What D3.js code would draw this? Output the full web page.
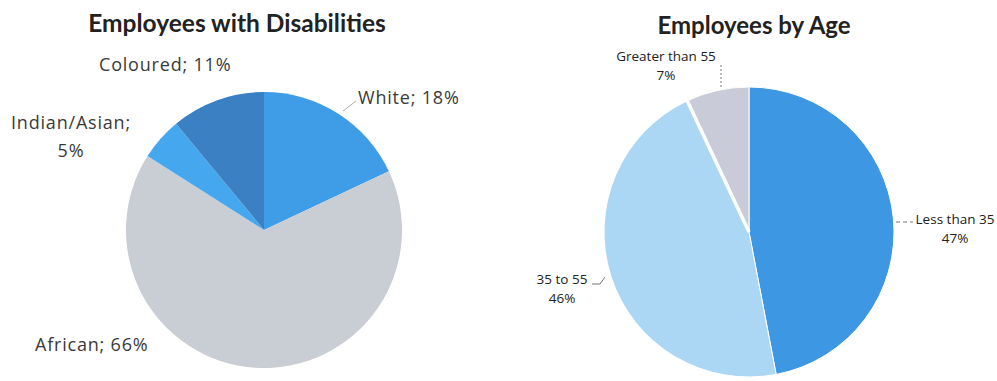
<!DOCTYPE html>
<html><head><meta charset="utf-8">
<script src="https://cdn.jsdelivr.net/npm/d3@7"></script>
<style>body{margin:0;background:#fff}svg{display:block}</style>
</head><body>
<svg id="c" width="997" height="381"></svg>
<script>
// Data
const disCats = ["White", "African", "Indian/Asian", "Coloured"];
const disVals = [18, 66, 5, 11];
const disColors = ["#3f9ce6", "#c9cdd4", "#45a8ee", "#3a80c2"];

const ageCats = ["Less than 35", "35 to 55", "Greater than 55"];
const ageVals = [47, 46, 7];
const ageColors = ["#3e97e2", "#acd7f4", "#c9ccd8"];

const titles = ["Employees with Disabilities", "Employees by Age"];

const svg = d3.select("#c");
const tfont = "Lato, 'Open Sans', sans-serif";
const font = "'Open Sans', Lato, sans-serif";

// ---- Left pie ----
const L = {cx: 264, cy: 230, r: 138};
const pie = d3.pie().sort(null).value(d => d);
const arcL = d3.arc().innerRadius(0).outerRadius(L.r);
const gL = svg.append("g").attr("transform", `translate(${L.cx},${L.cy})`);
const aL = pie(disVals);
gL.selectAll("path").data(aL).join("path")
  .attr("d", arcL).attr("fill", (d, i) => disColors[i]);

svg.append("text").attr("x", 237).attr("y", 32).attr("text-anchor", "middle")
  .attr("font-family", tfont).attr("font-weight", "bold").attr("font-size", 24.5)
  .attr("fill", "#222").text(titles[0]);

const lblStyle = s => s.attr("font-family", font).attr("font-size", 18).attr("letter-spacing", 0.8).attr("fill", "#3a3a3a");
// White label + leader
svg.append("path").attr("d", "M343,111 L356,101").attr("stroke", "#999").attr("fill", "none").attr("stroke-width", 0.8);
lblStyle(svg.append("text").attr("x", 358).attr("y", 104)).text(disCats[0] + "; " + disVals[0] + "%");
lblStyle(svg.append("text").attr("x", 99).attr("y", 71)).text(disCats[3] + "; " + disVals[3] + "%");
lblStyle(svg.append("text").attr("x", 71).attr("y", 129).attr("text-anchor", "middle")).text(disCats[2] + ";");
lblStyle(svg.append("text").attr("x", 71).attr("y", 157).attr("text-anchor", "middle")).text(disVals[2] + "%");
lblStyle(svg.append("text").attr("x", 35).attr("y", 351)).text(disCats[1] + "; " + disVals[1] + "%");

// ---- Right pie ----
const R = {cx: 749, cy: 232, r: 145};
const arcR = d3.arc().innerRadius(0).outerRadius(R.r);
const gR = svg.append("g").attr("transform", `translate(${R.cx},${R.cy})`);
const aR = pie(ageVals);
gR.selectAll("path").data(aR).join("path")
  .attr("d", arcR).attr("fill", (d, i) => ageColors[i])
  .attr("stroke", "#fff").attr("stroke-width", 1);
// thicker separator between 35-55 and >55
const sepA = aR[2].startAngle;
gR.append("line").attr("x1", 0).attr("y1", 0)
  .attr("x2", Math.sin(sepA) * (R.r + 2)).attr("y2", -Math.cos(sepA) * (R.r + 2))
  .attr("stroke", "#fff").attr("stroke-width", 3.5);

svg.append("text").attr("x", 754).attr("y", 34).attr("text-anchor", "middle")
  .attr("font-family", tfont).attr("font-weight", "bold").attr("font-size", 24)
  .attr("fill", "#222").text(titles[1]);

const sm = s => s.attr("font-family", font).attr("font-size", 13.5).attr("fill", "#222").attr("text-anchor", "middle");
sm(svg.append("text").attr("x", 666).attr("y", 61)).text(ageCats[2]);
sm(svg.append("text").attr("x", 666).attr("y", 80)).text(ageVals[2] + "%");
svg.append("path").attr("d", "M721,65 L721,88").attr("stroke", "#777").attr("stroke-dasharray", "2,2").attr("fill", "none");

sm(svg.append("text").attr("x", 955).attr("y", 224)).text(ageCats[0]);
sm(svg.append("text").attr("x", 955).attr("y", 243)).text(ageVals[0] + "%");
svg.append("path").attr("d", "M896,222 L913,222").attr("stroke", "#777").attr("stroke-dasharray", "4,3").attr("fill", "none");

sm(svg.append("text").attr("x", 562).attr("y", 284)).text(ageCats[1]);
sm(svg.append("text").attr("x", 562).attr("y", 303)).text(ageVals[1] + "%");
svg.append("path").attr("d", "M592,284 L600,284 L605,277").attr("stroke", "#777").attr("fill", "none");
</script>
</body></html>
